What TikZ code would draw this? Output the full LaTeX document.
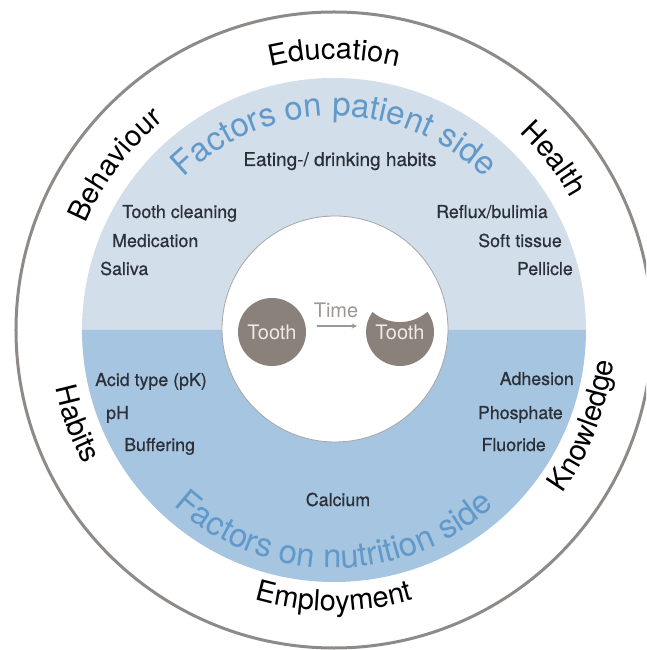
\documentclass[tikz,border=0pt]{standalone}
\usepackage{fontspec}
\setmainfont{TeX Gyre Heros}
\newfontfamily\factorfont[FakeBold=0.6]{TeX Gyre Heros}
\usetikzlibrary{arrows.meta,decorations.text}

\definecolor{patientblue}{HTML}{D2DEE9}
\definecolor{nutriblue}{HTML}{A6C5E0}
\definecolor{titleblue}{HTML}{6199CB}
\definecolor{ringgray}{HTML}{8E8A88}
\definecolor{toothgray}{HTML}{8B817B}
\definecolor{toothtext}{HTML}{EEEAE6}
\definecolor{timegray}{HTML}{9E9894}
\definecolor{labelgray}{HTML}{2B2F38}

\newcommand{\ringfont}{\fontsize{29}{32}\selectfont}
\newcommand{\sidefont}{\fontsize{33}{36}\selectfont}

\tikzset{
  factor/.style={font=\factorfont\fontsize{17.8}{20}\selectfont, text=labelgray, inner sep=0pt},
  tooth/.style={circle, minimum size=68pt, inner sep=0pt, text=toothtext, font=\fontsize{20}{24}\selectfont},
}

\begin{document}
\begin{tikzpicture}[line cap=round,line join=round,x=1pt,y=1pt]
      \useasboundingbox (-334,-320) rectangle (312,330);
      \clip (-334,-320) rectangle (312,330);

      % rings
      \draw[ringgray, line width=3pt] (0,0) circle (318pt);
      \fill[patientblue] (-252,0) arc[start angle=180, end angle=0, radius=252pt] -- cycle;
      \fill[nutriblue] (-252,0) arc[start angle=180, end angle=360, radius=252pt] -- cycle;
      \draw[fill=white, draw=gray!70, line width=0.8pt] (1,1) circle (113pt);

      % outer ring labels
      \path[decorate, decoration={text along path, text align=center, text={|\ringfont|Education}}] (130:271pt) arc[start angle=130, end angle=50, radius=271pt];
      \path[decorate, decoration={text along path, text align=center, text={|\ringfont|Behaviour}}] (183:270pt) arc[start angle=183, end angle=103, radius=270pt];
      \path[decorate, decoration={text along path, text align=center, text={|\ringfont|Health}}] (78:271pt) arc[start angle=78, end angle=-2, radius=271pt];
      \path[decorate, decoration={text along path, text align=center, text={|\ringfont|Employment}}] (230:281pt) arc[start angle=230, end angle=310, radius=281pt];
      \path[decorate, decoration={text along path, text align=center, text={|\ringfont|Habits}}] (160:284pt) arc[start angle=160, end angle=240, radius=284pt];
      \path[decorate, decoration={text along path, text align=center, text={|\ringfont|Knowledge}}] (299:281pt) arc[start angle=299, end angle=379, radius=281pt];

      % side titles
      \path[decorate, decoration={text along path, text align=center, text={|\sidefont\color{titleblue}|Factors on patient side}}] (160:214pt) arc[start angle=160, end angle=20, radius=214pt];
      \path[decorate, decoration={text along path, text align=center, text={|\sidefont\color{titleblue}|Factors on nutrition side}}] (200:238pt) arc[start angle=200, end angle=340, radius=238pt];

      % factors
      \node[factor, anchor=base, font=\factorfont\fontsize{19}{22}\selectfont] (eat) at (6,164) {Eating-/ drinking habits};
      \foreach \lbl/\px/\py [count=\i] in {Tooth cleaning/-212/112, Medication/-222/83, Saliva/-234/55}{
        \node[factor, anchor=base west] (pl\i) at (\px,\py) {\lbl};
      }
      \foreach \lbl/\px/\py [count=\i] in {{Reflux/bulimia}/214/112, Soft tissue/228/83, Pellicle/239/55}{
        \node[factor, anchor=base east] (pr\i) at (\px,\py) {\lbl};
      }
      \foreach \lbl/\px/\py [count=\i] in {Acid type (pK)/-239/-56, pH/-228/-89, Buffering/-210/-121}{
        \node[factor, anchor=base west] (nl\i) at (\px,\py) {\lbl};
      }
      \foreach \lbl/\px/\py [count=\i] in {Adhesion/240/-55, Phosphate/229/-89, Fluoride/212/-121}{
        \node[factor, anchor=base east] (nr\i) at (\px,\py) {\lbl};
      }
      \node[factor, anchor=base] (calc) at (4,-176) {Calcium};

      % teeth
      \node[tooth, fill=toothgray] (toothA) at (-62,-2) {Tooth};
      \coordinate (biteB) at (66,-2);
      \fill[toothgray] (biteB) ++(36.1:34pt) arc[start angle=36.1, end angle=-216.1, radius=34pt]
        arc[start angle=-130.6, end angle=-49.4, radius=42pt] -- cycle;
      \node[tooth] (toothB) at (biteB) {Tooth};
      \draw[timegray, line width=1.1pt, -{Stealth[length=5pt,width=5pt]}, shorten <=11pt, shorten >=9pt]
        ([yshift=6pt]toothA.east) -- ([yshift=6pt]toothB.west)
        node[midway, above=8pt, inner sep=0pt, font=\fontsize{20}{24}\selectfont, text=timegray] (time) {Time};
\end{tikzpicture}
\end{document}
